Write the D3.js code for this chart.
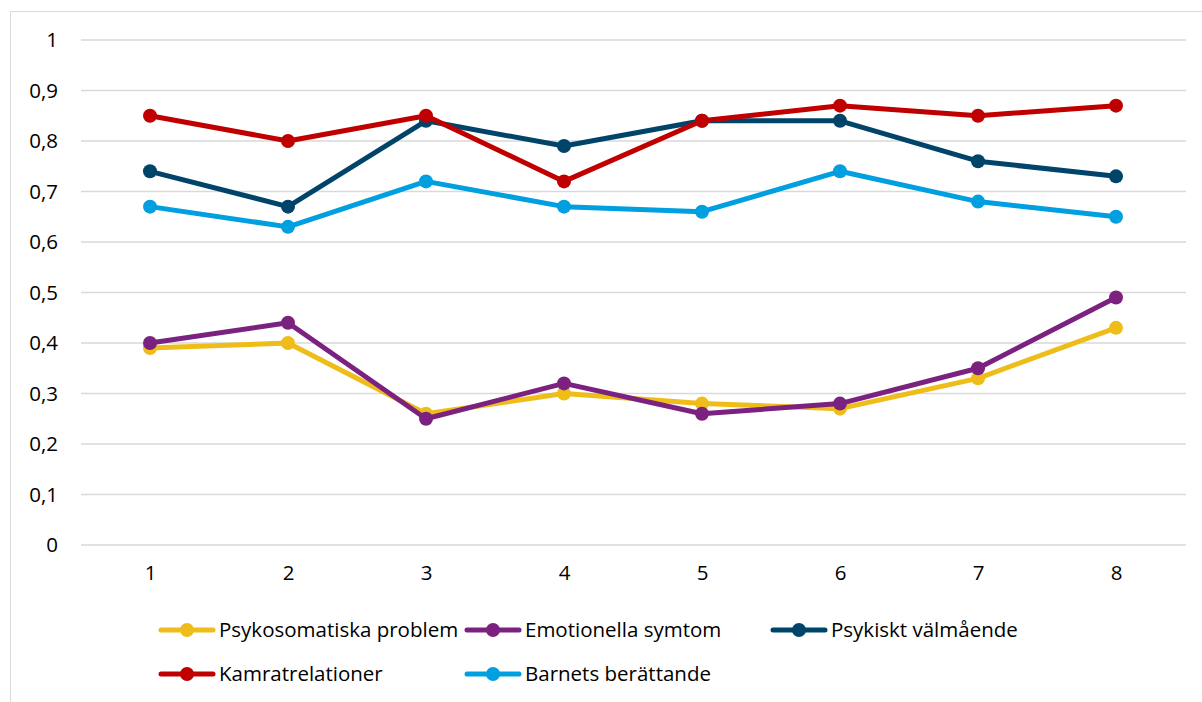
<!DOCTYPE html>
<html><head><meta charset="utf-8">
<script src="https://cdn.jsdelivr.net/npm/d3@7"></script>
<style>body{margin:0;background:#fff}svg{display:block}text{font-family:"Open Sans",sans-serif;fill:#000}</style>
</head><body>
<svg id="c" width="1202" height="702"></svg>
<script>
const categories = [1,2,3,4,5,6,7,8];
const yTicks = [0,0.1,0.2,0.3,0.4,0.5,0.6,0.7,0.8,0.9,1];
const seriesNames = ["Psykosomatiska problem","Emotionella symtom","Psykiskt välmående","Kamratrelationer","Barnets berättande"];
const seriesColors = ["#EEBD19","#7B2280","#00446A","#C00000","#009FDF"];
const psykosomatiska = [0.39,0.40,0.26,0.30,0.28,0.27,0.33,0.43];
const emotionella = [0.40,0.44,0.25,0.32,0.26,0.28,0.35,0.49];
const psykiskt = [0.74,0.67,0.84,0.79,0.84,0.84,0.76,0.73];
const kamrat = [0.85,0.80,0.85,0.72,0.84,0.87,0.85,0.87];
const barnets = [0.67,0.63,0.72,0.67,0.66,0.74,0.68,0.65];
const seriesValues = [psykosomatiska,emotionella,psykiskt,kamrat,barnets];

const svg = d3.select("#c");
svg.append("rect").attr("x",10.5).attr("y",11.5).attr("width",1210).attr("height",720)
  .attr("fill","none").attr("stroke","#d9d9d9");

const x = d3.scalePoint().domain(categories).range([150,1116]);
const y = d3.scaleLinear().domain([0,1]).range([545,40]);

const grid = svg.append("g");
grid.selectAll("line").data(yTicks).join("line")
  .attr("x1",81).attr("x2",1186).attr("y1",d=>y(d)).attr("y2",d=>y(d))
  .attr("stroke","#d9d9d9").attr("stroke-width",1.3);

const fs = "20.5px";
const fmt = d => String(d3.format("~g")(d)).replace(".",",");
const yAxis = svg.append("g").attr("transform","translate(66,0)")
  .call(d3.axisLeft(y).tickValues(yTicks).tickFormat(fmt).tickSize(0).tickPadding(8));
yAxis.select(".domain").remove();
yAxis.selectAll("text").style("font-size",fs).attr("fill","#000").style("font-family","'Open Sans',sans-serif");

const xAxis = svg.append("g").attr("transform","translate(0,565)")
  .call(d3.axisBottom(x).tickSize(0).tickPadding(0));
xAxis.select(".domain").remove();
xAxis.selectAll("text").style("font-size",fs).attr("fill","#000").attr("dy","0.75em").style("font-family","'Open Sans',sans-serif");

const line = d3.line().x((d,i)=>x(categories[i])).y(d=>y(d));
seriesValues.forEach((vals,si)=>{
  const g = svg.append("g");
  g.append("path").datum(vals).attr("d",line).attr("fill","none")
    .attr("stroke",seriesColors[si]).attr("stroke-width",5).attr("stroke-linejoin","round").attr("stroke-linecap","round");
  g.selectAll("circle").data(vals).join("circle")
    .attr("cx",(d,i)=>x(categories[i])).attr("cy",d=>y(d)).attr("r",7).attr("fill",seriesColors[si]);
});

const legendPos = [[160,630],[466,630],[772,630],[160,674],[466,674]];
seriesNames.forEach((n,si)=>{
  const [lx,ly] = legendPos[si];
  const g = svg.append("g").attr("transform",`translate(${lx},${ly})`);
  g.append("line").attr("x1",1).attr("x2",53).attr("y1",0).attr("y2",0)
    .attr("stroke",seriesColors[si]).attr("stroke-width",5).attr("stroke-linecap","round");
  g.append("circle").attr("cx",27).attr("cy",0).attr("r",7).attr("fill",seriesColors[si]);
  g.append("text").attr("x",59).attr("y",0).attr("dy","0.35em").style("font-size",fs).text(n);
});
</script>
</body></html>
